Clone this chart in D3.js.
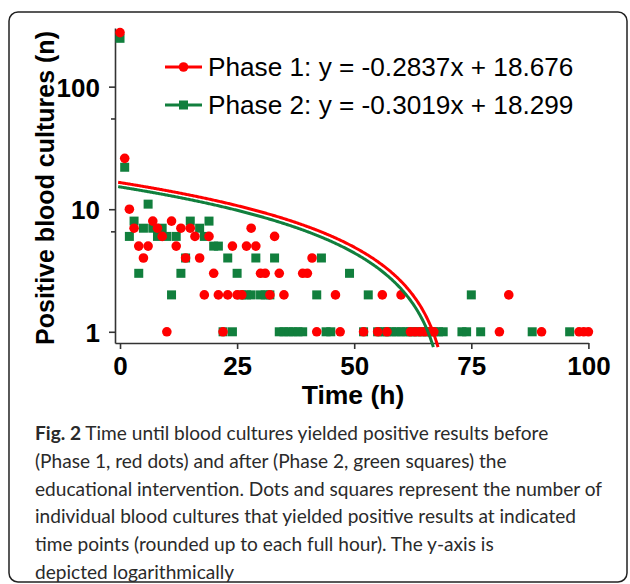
<!DOCTYPE html>
<html>
<head>
<meta charset="utf-8">
<script src="https://cdn.jsdelivr.net/npm/d3@7"></script>
<style>
  body { margin: 0; background: #fff; }
  svg { display: block; }
</style>
</head>
<body>
<div id="chart"></div>
<script>
// Phase 1 (red dots): hour -> number of positive cultures
const phase1Hours = [0, 1, 2, 3, 4, 5, 6, 7, 8, 9, 10, 11, 12, 13, 14, 15, 16, 17, 18, 19,
  20, 21, 22, 23, 24, 25, 26, 27, 28, 29, 30, 31, 32, 33, 34, 35, 39, 40, 41, 42,
  46, 47, 52, 55, 56, 57, 60, 62, 63, 64, 65, 66, 67, 81, 83, 90, 98, 99, 100];
const phase1Counts = [276, 26, 10, 7, 5, 4, 5, 8, 7, 6, 1, 8, 5, 7, 4, 7, 6, 4, 2, 6,
  3, 2, 1, 2, 5, 2, 2, 5, 7, 5, 3, 3, 2, 6, 3, 2, 3, 3, 4, 1,
  2, 1, 1, 1, 2, 1, 2, 1, 1, 1, 1, 1, 1, 1, 2, 1, 1, 1, 1];

// Phase 2 (green squares)
const phase2Hours = [0, 1, 2, 3, 4, 5, 6, 7, 8, 9, 10, 11, 12, 13, 14, 15, 17, 18, 19, 20,
  21, 22, 23, 24, 25, 26, 27, 28, 29, 30, 31, 32, 33, 34, 35, 36, 37, 38, 39, 42,
  43, 44, 45, 49, 52, 53, 55, 56, 57, 58, 59, 60, 61, 62, 63, 64, 65, 66, 67, 68,
  69, 73, 74, 75, 77, 88, 96];
const phase2Counts = [248, 22, 6, 8, 3, 7, 11, 7, 6, 7, 6, 2, 6, 3, 4, 8, 7, 6, 8, 5,
  5, 1, 4, 1, 3, 2, 2, 2, 4, 2, 2, 2, 4, 1, 1, 1, 1, 1, 1, 2,
  4, 1, 1, 3, 1, 2, 1, 1, 1, 1, 1, 1, 1, 1, 1, 1, 1, 1, 1, 1,
  1, 1, 1, 2, 1, 1, 1];

// fitted lines as drawn in the figure: [intercept, slope]
const fit1 = [16.5, -0.232];
const fit2 = [15.2, -0.216];

const legendLabels = ["Phase 1: y = -0.2837x + 18.676", "Phase 2: y = -0.3019x + 18.299"];
const xTicks = [0, 25, 50, 75, 100];
const yTicks = [1, 10, 100];
const yMinorTicks = [6.6, 55];

const captionLines = [
  "Time until blood cultures yielded positive results before",
  "(Phase 1, red dots) and after (Phase 2, green squares) the",
  "educational intervention. Dots and squares represent the number of",
  "individual blood cultures that yielded positive results at indicated",
  "time points (rounded up to each full hour). The y-axis is",
  "depicted logarithmically"
];

const RED = "#ff0000";
const GREEN = "#117f3d";
const AXIS = "#333";
const LABEL_FONT = "'Liberation Sans', Arial, sans-serif";

const W = 630, H = 584;

const svg = d3.select("#chart")
  .append("svg")
  .attr("width", W)
  .attr("height", H);

// outer frame
svg.append("rect")
  .attr("x", 9).attr("y", 12)
  .attr("width", 618).attr("height", 570)
  .attr("rx", 9)
  .attr("fill", "none")
  .attr("stroke", "#222")
  .attr("stroke-width", 1.5);

const x = d3.scaleLinear().domain([-1.07, 100]).range([115, 588.4]);
const y = d3.scaleLog().domain([0.81, 301]).range([343, 28]);

// axes
const xAxis = svg.append("g")
  .attr("transform", "translate(0,343)")
  .call(d3.axisBottom(x).tickValues(xTicks).tickSize(6).tickSizeOuter(0).tickFormat(d3.format("d")));

const yAxis = svg.append("g")
  .attr("transform", "translate(115,0)")
  .call(d3.axisLeft(y).tickValues(yTicks).tickSize(6).tickSizeOuter(0).tickFormat(d3.format("d")));

svg.append("g")
  .attr("transform", "translate(115,0)")
  .call(d3.axisLeft(y).tickValues(yMinorTicks).tickSize(4).tickSizeOuter(0).tickFormat(""))
  .select(".domain").remove();

svg.selectAll(".domain, .tick line")
  .attr("stroke", AXIS)
  .attr("stroke-width", 1.6);

xAxis.selectAll("text")
  .attr("dy", null)
  .attr("y", 32)
  .style("font-family", LABEL_FONT)
  .style("font-weight", "bold")
  .style("font-size", "26px")
  .attr("fill", "#000");

yAxis.selectAll("text")
  .attr("x", -15)
  .attr("dy", "0.36em")
  .style("font-family", LABEL_FONT)
  .style("font-weight", "bold")
  .style("font-size", "26px")
  .attr("fill", "#000");

// axis titles
svg.append("text")
  .attr("x", 353)
  .attr("y", 404)
  .attr("text-anchor", "middle")
  .style("font-family", LABEL_FONT)
  .style("font-weight", "bold")
  .style("font-size", "26.5px")
  .text("Time (h)");

svg.append("text")
  .attr("transform", "translate(54,188) rotate(-90)")
  .attr("text-anchor", "middle")
  .style("font-family", LABEL_FONT)
  .style("font-weight", "bold")
  .style("font-size", "25px")
  .text("Positive blood cultures (n)");

// points: green squares under red dots
const sq = 9;
const phase2 = phase2Hours.map((h, i) => ({ h, n: phase2Counts[i] }));
const phase1 = phase1Hours.map((h, i) => ({ h, n: phase1Counts[i] }));

svg.append("g")
  .selectAll("rect")
  .data(phase2)
  .enter()
  .append("rect")
  .attr("x", (d) => x(d.h) - sq / 2)
  .attr("y", (d) => y(d.n) - sq / 2)
  .attr("width", sq)
  .attr("height", sq)
  .attr("fill", GREEN);

svg.append("g")
  .selectAll("circle")
  .data(phase1)
  .enter()
  .append("circle")
  .attr("cx", (d) => x(d.h))
  .attr("cy", (d) => y(d.n))
  .attr("r", 4.8)
  .attr("fill", RED);

// fit curves (straight lines in linear space, curved on log axis)
const fitLine = d3.line().x((d) => x(d[0])).y((d) => y(d[1]));
function fitPoints(fit) {
  const xEnd = (0.75 - fit[0]) / fit[1];
  const pts = d3.range(-0.4, xEnd, 0.2).map((t) => [t, fit[0] + fit[1] * t]);
  pts.push([xEnd, 0.75]);
  return pts;
}

svg.append("path")
  .datum(fitPoints(fit2))
  .attr("d", fitLine)
  .attr("fill", "none")
  .attr("stroke", GREEN)
  .attr("stroke-width", 3);

svg.append("path")
  .datum(fitPoints(fit1))
  .attr("d", fitLine)
  .attr("fill", "none")
  .attr("stroke", RED)
  .attr("stroke-width", 3);

// legend
const legend = svg.append("g");
[RED, GREEN].forEach((c, i) => {
  const ly = 67 + i * 38;
  legend.append("line")
    .attr("x1", 165).attr("x2", 202)
    .attr("y1", ly).attr("y2", ly)
    .attr("stroke", c)
    .attr("stroke-width", 3);
  if (i === 0) {
    legend.append("circle").attr("cx", 183.5).attr("cy", ly).attr("r", 4.8).attr("fill", c);
  } else {
    legend.append("rect").attr("x", 183.5 - sq / 2).attr("y", ly - sq / 2)
      .attr("width", sq).attr("height", sq).attr("fill", c);
  }
  legend.append("text")
    .attr("x", 208)
    .attr("y", ly)
    .attr("dy", "0.36em")
    .style("font-family", LABEL_FONT)
    .style("font-size", "26.2px")
    .text(legendLabels[i]);
});

// caption
const caption = svg.append("g")
  .style("font-family", "Lato, 'Open Sans', sans-serif")
  .style("font-size", "19.1px")
  .attr("fill", "#2a2a2a");

captionLines.forEach((line, i) => {
  const t = caption.append("text")
    .attr("x", 35)
    .attr("y", 440 + i * 27.8);
  if (i === 0) {
    t.append("tspan").style("font-weight", "bold").text("Fig. 2");
    t.append("tspan").text(" " + line);
  } else {
    t.text(line);
  }
});
</script>
</body>
</html>
